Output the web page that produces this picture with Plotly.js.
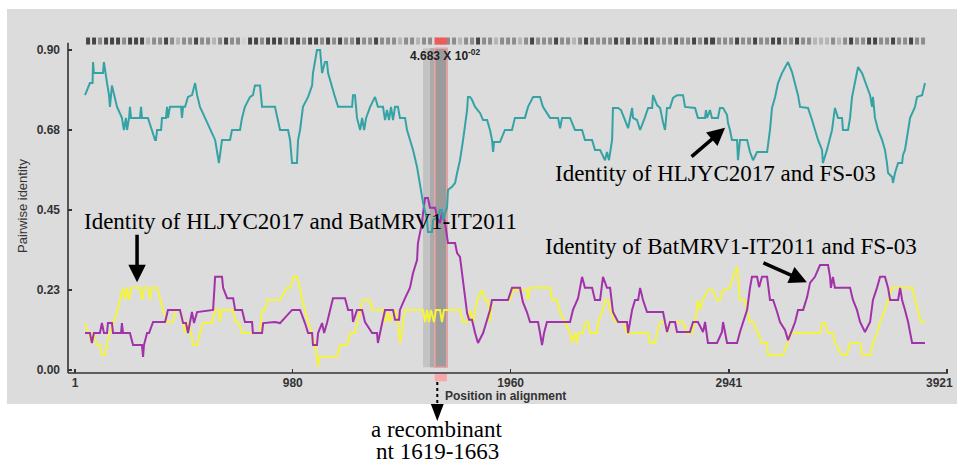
<!DOCTYPE html>
<html>
<head>
<meta charset="utf-8">
<script src="https://cdn.plot.ly/plotly-3.0.1.min.js"></script>
<style>html,body{margin:0;padding:0;background:#fff;}#chart{width:957px;height:465px;}</style>
</head>
<body>
<div id="chart"></div>
<script>
// ---- data ----
const xTicks = [1, 980, 1960, 2941, 3921];
const xTickText = ['1', '980', '1960', '2941', '3921'];
const yTicks = [0, 0.225, 0.45, 0.675, 0.9];
const yTickText = ['0.00', '0.23', '0.45', '0.68', '0.90'];

const recombStart = 1619;
const recombEnd = 1663;
const breakRegionStart = 1566;
const breakRegionInner = 1597;
const breakRegionEnd = 1678;

// HLJYC2017 vs FS-03
const tealPos = [46,68,80,82,86,127,131,140,145,154,158,167,176,190,212,221,230,235,244,248,253,293,298,302,329,347,361,365,370,388,392,410,415,419,428,478,482,487,496,509,527,541,550,563,586,608,631,640,648,662,698,707,743,752,765,788,801,810,833,842,900,923,959,968,977,999,1004,1013,1026,1049,1067,1071,1089,1103,1112,1125,1134,1139,1157,1170,1184,1247,1251,1260,1269,1283,1292,1301,1310,1328,1350,1363,1386,1395,1404,1413,1422,1431,1440,1453,1462,1485,1494,1507,1521,1539,1552,1566,1584,1588,1606,1611,1633,1642,1651,1656,1674,1678,1696,1710,1719,1732,1746,1764,1768,1777,1786,1800,1822,1836,1854,1867,1876,1881,1885,1912,1934,1966,1979,2024,2038,2061,2092,2105,2137,2173,2182,2191,2227,2249,2281,2294,2326,2339,2362,2384,2393,2402,2416,2420,2443,2456,2474,2488,2506,2510,2528,2542,2564,2578,2596,2600,2618,2632,2645,2654,2663,2676,2690,2708,2735,2744,2789,2802,2834,2838,2843,2856,2865,2892,2901,2915,2933,2937,2946,2955,2978,2982,2991,3023,3036,3050,3068,3113,3126,3135,3149,3162,3180,3194,3207,3225,3239,3252,3261,3297,3315,3328,3342,3360,3364,3382,3405,3418,3432,3450,3454,3477,3486,3495,3508,3522,3540,3562,3576,3585,3589,3598,3612,3630,3643,3652,3657,3675,3679,3688,3702,3720,3724,3733,3747,3756,3778,3787,3810,3823];
const tealVal = [.773,.807,.807,.866,.835,.835,.866,.835,.807,.773,.74,.80,.773,.74,.709,.675,.709,.675,.709,.74,.709,.709,.74,.709,.709,.675,.647,.647,.675,.675,.709,.709,.74,.709,.74,.74,.709,.74,.74,.768,.773,.807,.773,.74,.709,.675,.647,.613,.582,.647,.647,.675,.675,.709,.74,.768,.773,.80,.80,.74,.74,.675,.675,.647,.582,.582,.647,.675,.74,.768,.80,.835,.90,.90,.835,.866,.866,.835,.80,.768,.74,.74,.773,.773,.709,.675,.709,.675,.709,.74,.768,.74,.74,.703,.731,.703,.74,.703,.74,.74,.709,.709,.675,.647,.619,.571,.526,.47,.422,.388,.388,.422,.43,.45,.45,.422,.458,.506,.515,.526,.554,.59,.647,.731,.768,.768,.76,.74,.723,.703,.703,.675,.647,.613,.641,.641,.675,.675,.709,.709,.74,.768,.768,.74,.709,.709,.68,.709,.709,.675,.675,.647,.647,.619,.619,.59,.613,.59,.647,.737,.737,.731,.703,.68,.737,.709,.703,.675,.711,.737,.737,.773,.745,.737,.697,.675,.737,.737,.765,.773,.773,.74,.737,.709,.709,.731,.709,.731,.709,.709,.737,.737,.717,.695,.675,.647,.647,.59,.647,.647,.613,.59,.613,.613,.675,.737,.768,.807,.835,.852,.866,.838,.807,.773,.74,.737,.703,.675,.647,.619,.582,.619,.675,.737,.709,.709,.675,.675,.709,.768,.807,.852,.835,.80,.773,.74,.768,.709,.675,.647,.619,.582,.554,.543,.526,.554,.582,.582,.605,.619,.675,.709,.74,.768,.773,.807];

// BatMRV1-IT2011 vs FS-03
const purplePos = [46,68,77,86,113,122,131,145,149,167,172,208,212,217,248,262,302,307,311,325,334,352,406,419,473,487,500,509,527,536,550,622,631,662,667,685,712,721,752,765,797,801,842,847,900,923,977,1013,1035,1049,1067,1071,1089,1094,1112,1121,1134,1148,1161,1215,1229,1247,1251,1269,1292,1305,1337,1359,1363,1382,1386,1395,1431,1440,1458,1462,1485,1507,1521,1539,1543,1561,1566,1575,1588,1597,1620,1629,1642,1651,1665,1678,1710,1719,1732,1741,1746,1755,1764,1773,1786,1800,1813,1836,1854,1867,1876,1948,1966,2002,2015,2033,2047,2083,2092,2101,2110,2123,2227,2240,2263,2281,2294,2326,2339,2362,2375,2393,2407,2420,2443,2483,2488,2506,2519,2533,2542,2555,2573,2645,2654,2663,2676,2699,2708,2766,2780,2802,2825,2834,2847,2888,2910,2915,2933,2978,2991,3023,3036,3045,3068,3077,3090,3113,3126,3140,3158,3171,3194,3207,3225,3239,3252,3275,3293,3306,3328,3351,3387,3396,3400,3409,3418,3486,3499,3517,3531,3553,3576,3589,3607,3621,3643,3657,3666,3702,3711,3720,3733,3747,3765,3823];
const purpleVal = [.104,.104,.076,.104,.104,.132,.104,.104,.132,.132,.104,.104,.132,.104,.104,.07,.07,.037,.07,.104,.104,.135,.135,.169,.169,.132,.132,.104,.163,.132,.163,.169,.262,.262,.231,.202,.202,.169,.169,.135,.135,.104,.104,.132,.135,.132,.169,.169,.132,.104,.104,.07,.07,.104,.132,.104,.132,.169,.202,.202,.169,.169,.135,.169,.169,.135,.104,.104,.076,.132,.141,.169,.169,.141,.141,.169,.202,.231,.273,.309,.357,.413,.441,.484,.484,.456,.456,.43,.413,.444,.413,.357,.357,.329,.318,.273,.233,.197,.16,.141,.141,.104,.076,.104,.141,.169,.197,.197,.231,.231,.191,.163,.135,.135,.104,.07,.104,.135,.135,.169,.202,.262,.231,.231,.197,.197,.262,.231,.231,.163,.135,.135,.104,.169,.197,.197,.231,.197,.163,.163,.135,.107,.135,.135,.107,.107,.135,.135,.107,.135,.076,.076,.107,.135,.076,.076,.107,.169,.231,.262,.262,.233,.262,.262,.197,.197,.163,.135,.112,.084,.112,.135,.169,.169,.205,.245,.262,.295,.295,.262,.231,.262,.231,.231,.197,.169,.135,.107,.135,.197,.231,.262,.262,.231,.197,.197,.231,.197,.169,.135,.076,.076];

// HLJYC2017 vs BatMRV1-IT2011
const yellowPos = [46,59,77,82,100,113,122,136,145,158,172,190,203,217,226,235,244,253,293,302,311,329,338,347,370,383,397,415,442,451,469,487,496,509,523,532,550,563,577,617,631,649,653,662,712,721,739,752,833,842,856,865,923,954,972,981,999,1013,1022,1035,1049,1067,1080,1089,1094,1098,1179,1193,1224,1238,1260,1269,1283,1296,1328,1337,1386,1395,1409,1417,1440,1453,1462,1471,1476,1485,1566,1575,1584,1593,1602,1615,1624,1642,1651,1660,1732,1746,1764,1777,1791,1800,1809,1831,1845,1858,1867,1876,1957,1970,2033,2038,2047,2137,2146,2168,2182,2204,2227,2236,2249,2258,2263,2285,2294,2308,2317,2348,2353,2375,2384,2398,2407,2429,2465,2483,2578,2587,2609,2618,2632,2654,2663,2676,2735,2753,2775,2789,2798,2802,2811,2825,2847,2870,2888,2901,2915,2946,2960,2978,2982,2991,3014,3023,3036,3050,3072,3090,3113,3117,3185,3203,3216,3351,3360,3373,3387,3409,3418,3450,3472,3486,3531,3540,3576,3589,3607,3621,3643,3657,3675,3765,3778,3792,3805,3823];
const yellowVal = [.132,.107,.076,.104,.07,.07,.042,.042,.076,.104,.132,.163,.197,.231,.197,.231,.197,.231,.231,.197,.231,.231,.197,.231,.231,.197,.169,.135,.135,.169,.169,.135,.104,.135,.104,.07,.07,.104,.132,.132,.169,.169,.135,.169,.169,.135,.132,.104,.104,.169,.169,.197,.197,.231,.231,.262,.262,.231,.197,.169,.135,.104,.07,.037,.008,.037,.037,.07,.07,.104,.104,.132,.169,.197,.197,.169,.169,.135,.163,.135,.169,.135,.076,.104,.135,.169,.169,.135,.169,.135,.169,.135,.169,.169,.135,.169,.169,.135,.135,.169,.135,.169,.197,.225,.197,.197,.135,.197,.197,.225,.225,.197,.231,.231,.197,.197,.163,.135,.104,.076,.104,.076,.104,.104,.132,.135,.104,.104,.135,.169,.197,.197,.169,.135,.135,.104,.104,.076,.076,.104,.135,.135,.104,.135,.135,.104,.104,.135,.169,.197,.169,.197,.225,.225,.197,.197,.225,.231,.262,.29,.262,.197,.197,.163,.135,.135,.104,.076,.076,.042,.042,.07,.104,.104,.132,.132,.104,.104,.076,.042,.042,.076,.076,.042,.042,.076,.104,.135,.169,.197,.231,.231,.197,.169,.135,.135];

// density of informative sites along the alignment (top barcode strip)
const siteDensity = [3,3,2,3,3,3,2,3,3,3, 1, 2,2,3,2,1,2,2,3,2,2,1,2,3,2,2, 0, 3,3,2,3,3,3,2,3,3,2,3,3,2,3, 2,3,2,2,3,2,2,3,2,2, 2,1,2,2,1,2,2, 1,1, 2,2,1,2,2,3,2,2,1,2,2,2,1, 2,3,2,2,2,3,2,2,1,2,3,2,2, 2,2,3,2,3,2,2,3,3,2,2,2,3,2,2,3,2,3,3,2,2,2,3,2,2,3,2,2,3,3,2,2,3,2,2, 1,1,1,2,1, 2,3,2,2,3,3,2,2,3,2,2,3,2,2];
const stripStart = 46, stripBin = 27;

const pValueText = '4.683 X 10<sup>-02</sup>';

// ---- traces ----
const lineStyle = (c) => ({color: c, width: 2});
const traces = [
  {type:'heatmap', z:[siteDensity], x0: stripStart + stripBin/2, dx: stripBin, y:[0.915, 0.935],
   colorscale:[[0,'#d2d2d2'],[0.34,'#b4b4b4'],[0.67,'#8c8c8c'],[1,'#454545']], zmin:0, zmax:3,
   showscale:false, xgap:2, hoverinfo:'skip'},
  {type:'scatter', mode:'lines', x:yellowPos, y:yellowVal, line:lineStyle('#f4f43e'), hoverinfo:'skip'},
  {type:'scatter', mode:'lines', x:purplePos, y:purpleVal, line:lineStyle('#a232aa'), hoverinfo:'skip'},
  {type:'scatter', mode:'lines', x:tealPos, y:tealVal, line:lineStyle('#35a3a5'), hoverinfo:'skip'}
];

const serif = 'Liberation Serif, Times New Roman, serif';
const sans = 'Liberation Sans, Arial, sans-serif';
const axisFont = {family: sans, size: 12, color: '#333', weight: 'bold'};

// the last x tick label sits flush against the right edge, as in the reference
const shownTickText = xTickText.map((t, i) => i === xTickText.length - 1 ? '' : t);

const layout = {
  width: 957, height: 465,
  margin: {l: 68, r: 9, t: 28, b: 92},
  paper_bgcolor: '#ffffff', plot_bgcolor: 'rgba(0,0,0,0)',
  showlegend: false,
  xaxis: {range: [-30.5, 3926.4], tickvals: xTicks, ticktext: shownTickText, ticks: 'inside', ticklen: 4,
          tickwidth: 1.5, tickcolor: '#333', showline: false, showgrid: false, zeroline: false,
          tickfont: axisFont, ticklabelstandoff: 1, fixedrange: true},
  yaxis: {range: [-0.0084, 0.9618], tickvals: yTicks, ticktext: yTickText, ticks: 'inside', ticklen: 4,
          tickwidth: 1.5, tickcolor: '#333', showline: false, showgrid: false, zeroline: false,
          tickfont: axisFont, ticklabelstandoff: 7, fixedrange: true},
  shapes: [
    // gray panel
    {type:'rect', xref:'paper', yref:'paper', x0:-0.0693, x1:1.0102, y0:-0.0899, y1:1.0551,
     fillcolor:'#dcdcdc', line:{width:0}, layer:'below'},
    // breakpoint region
    {type:'rect', xref:'x', yref:'y', x0:breakRegionStart, x1:breakRegionEnd, y0:0.008, y1:0.905,
     fillcolor:'#c3c3c3', line:{width:0}, layer:'below'},
    {type:'rect', xref:'x', yref:'y', x0:breakRegionInner, x1:breakRegionEnd, y0:0.008, y1:0.905,
     fillcolor:'#ababab', line:{width:0}, layer:'below'},
    {type:'rect', xref:'x', yref:'y', x0:recombStart, x1:recombEnd + 10, y0:0.008, y1:0.905,
     fillcolor:'#9b9b9b', line:{width:1.5, color:'#f2a0a0'}, layer:'below'},
    // red marks on strip and below axis
    {type:'rect', xref:'x', yref:'y', x0:recombStart, x1:recombEnd + 10, y0:0.915, y1:0.935,
     fillcolor:'#f05a5a', line:{width:0}},
    {type:'rect', xref:'x', yref:'paper', x0:recombStart, x1:recombEnd + 10, y0:-0.024, y1:-0.003,
     fillcolor:'#f8a8a8', line:{width:0}},
    // axis lines
    {type:'line', xref:'paper', yref:'paper', x0:0, x1:1, y0:0, y1:0, line:{color:'#333', width:1.6}},
    {type:'line', xref:'paper', yref:'y', x0:0, x1:0, y0:-0.0084, y1:0.92, line:{color:'#333', width:1.6}},
    // dotted arrow to the recombinant label
    {type:'line', xref:'x', yref:'paper', x0:1630, x1:1630, y0:-0.026, y1:-0.092, line:{color:'#000', width:2, dash:'dot'}},
    {type:'path', xref:'x', yref:'paper', path:'M 1601,-0.0899 L 1659,-0.0899 L 1630,-0.1391 Z',
     fillcolor:'#000', line:{width:0}}
  ],
  annotations: [
    {x:1.008, y:-0.029, xref:'paper', yref:'paper', xanchor:'right', yanchor:'middle',
     text:xTickText[xTickText.length - 1], showarrow:false, font:axisFont},
    {x:1669, y:0.887, xref:'x', yref:'y', text:pValueText, showarrow:false,
     font:{family:sans, size:12, color:'#222', weight:'bold'}},
    {x:2150, y:0.553, xref:'x', yref:'y', xanchor:'left', yanchor:'middle', text:'Identity of HLJYC2017 and FS-03', showarrow:false,
     font:{family:serif, size:23, color:'#000'}},
    {x:32, y:0.419, xref:'x', yref:'y', xanchor:'left', yanchor:'middle', text:'Identity of HLJYC2017 and BatMRV1-IT2011', showarrow:false,
     font:{family:serif, size:23, color:'#000'}},
    {x:2105, y:0.346, xref:'x', yref:'y', xanchor:'left', yanchor:'middle', text:'Identity of BatMRV1-IT2011 and FS-03', showarrow:false,
     font:{family:serif, size:23, color:'#000'}},
    {x:2924, y:0.681, xref:'x', yref:'y', ax:-35, ay:30, text:'', showarrow:true, arrowhead:2, arrowsize:1, arrowwidth:3.5, arrowcolor:'#000'},
    {x:280, y:0.247, xref:'x', yref:'y', ax:0, ay:-49, text:'', showarrow:true, arrowhead:2, arrowsize:1, arrowwidth:3.5, arrowcolor:'#000'},
    {x:3292, y:0.247, xref:'x', yref:'y', ax:-45, ay:-20, text:'', showarrow:true, arrowhead:2, arrowsize:1, arrowwidth:3.5, arrowcolor:'#000'},
    {x:1656, y:-0.0667, xref:'x', yref:'paper', xanchor:'left', yanchor:'middle', text:'Position in alignment', showarrow:false,
     font:{family:sans, size:12, color:'#333', weight:'bold'}},
    {x:-0.0523, y:0.484, xref:'paper', yref:'paper', xanchor:'center', yanchor:'middle', text:'Pairwise identity', textangle:-90, showarrow:false,
     font:{family:sans, size:13, color:'#333'}},
    {x:1630, y:-0.165, xref:'x', yref:'paper', yanchor:'middle', text:'a recombinant', showarrow:false,
     height:21, borderpad:0, font:{family:serif, size:23, color:'#000'}},
    {x:1630, y:-0.2275, xref:'x', yref:'paper', yanchor:'middle', text:'nt 1619-1663', showarrow:false,
     height:21, borderpad:0, font:{family:serif, size:23, color:'#000'}}
  ]
};

Plotly.newPlot('chart', traces, layout, {displayModeBar:false, staticPlot:true});
</script>
</body>
</html>
